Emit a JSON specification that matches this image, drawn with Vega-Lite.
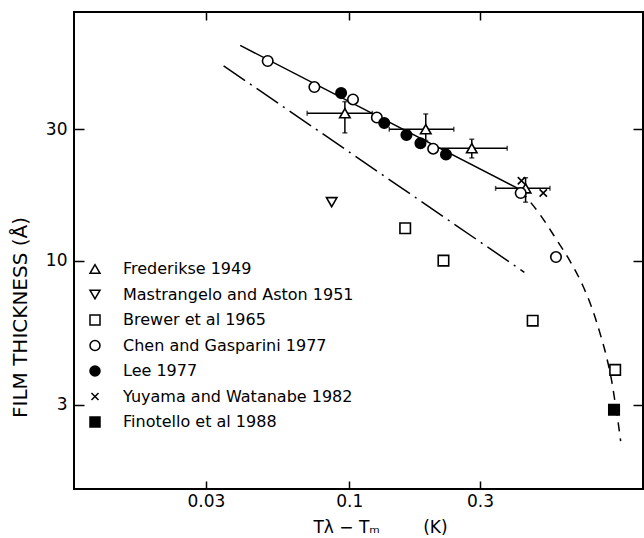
{
  "$schema": "https://vega.github.io/schema/vega-lite/v6.json",
  "width": 569,
  "height": 477,
  "autosize": {"type": "none"},
  "padding": {"left": 74, "top": 12, "right": 1, "bottom": 49},
  "background": "white",
  "config": {
    "view": {"stroke": "black", "strokeWidth": 2},
    "axis": {
      "domain": false, "grid": false, "tickColor": "black", "tickWidth": 1.5,
      "labelColor": "black", "labelFont": "DejaVu Sans", "labelFontSize": 17,
      "titleColor": "black", "titleFont": "DejaVu Sans", "titleFontWeight": "normal", "titleFontSize": 17
    }
  },
  "datasets": {
    "pts": [
      {"series": "Frederikse 1949", "x": 0.0964, "y": 34.3},
      {"series": "Frederikse 1949", "x": 0.1902, "y": 30.0},
      {"series": "Frederikse 1949", "x": 0.280, "y": 25.6},
      {"series": "Frederikse 1949", "x": 0.440, "y": 18.3},
      {"series": "Mastrangelo and Aston 1951", "x": 0.0863, "y": 16.3},
      {"series": "Brewer et al 1965", "x": 0.160, "y": 13.1},
      {"series": "Brewer et al 1965", "x": 0.2207, "y": 10.0},
      {"series": "Brewer et al 1965", "x": 0.467, "y": 6.05},
      {"series": "Brewer et al 1965", "x": 0.934, "y": 4.01},
      {"series": "Chen and Gasparini 1977", "x": 0.0504, "y": 53.1},
      {"series": "Chen and Gasparini 1977", "x": 0.0746, "y": 42.7},
      {"series": "Chen and Gasparini 1977", "x": 0.1032, "y": 38.5},
      {"series": "Chen and Gasparini 1977", "x": 0.1261, "y": 33.1},
      {"series": "Chen and Gasparini 1977", "x": 0.2024, "y": 25.5},
      {"series": "Chen and Gasparini 1977", "x": 0.4223, "y": 17.6},
      {"series": "Chen and Gasparini 1977", "x": 0.568, "y": 10.3},
      {"series": "Lee 1977", "x": 0.0934, "y": 40.6},
      {"series": "Lee 1977", "x": 0.1342, "y": 31.6},
      {"series": "Lee 1977", "x": 0.1617, "y": 28.6},
      {"series": "Lee 1977", "x": 0.1819, "y": 26.7},
      {"series": "Lee 1977", "x": 0.2254, "y": 24.3},
      {"series": "Yuyama and Watanabe 1982", "x": 0.425, "y": 19.5},
      {"series": "Yuyama and Watanabe 1982", "x": 0.5105, "y": 17.6},
      {"series": "Finotello et al 1988", "x": 0.925, "y": 2.87}
    ],
    "ferr": [
      {"x": 0.0964, "xlo": 0.0702, "xhi": 0.1214, "y": 34.3, "ylo": 29.1, "yhi": 37.8},
      {"x": 0.1902, "xlo": 0.140, "xhi": 0.2407, "y": 30.0, "ylo": 27.3, "yhi": 34.1},
      {"x": 0.280, "xlo": 0.2088, "xhi": 0.377, "y": 25.6, "ylo": 23.6, "yhi": 27.6},
      {"x": 0.440, "xlo": 0.342, "xhi": 0.540, "y": 18.3, "ylo": 16.3, "yhi": 20.0}
    ],
    "fit": [
      {"x": 0.040, "y": 60.5},
      {"x": 0.421, "y": 18.1}
    ],
    "dashdot": [
      {"x": 0.0348, "y": 51.0},
      {"x": 0.4355, "y": 9.07}
    ],
    "dashed": [
      {"x": 0.422, "y": 18.0},
      {"x": 0.499, "y": 14.6},
      {"x": 0.571, "y": 11.9},
      {"x": 0.642, "y": 9.88},
      {"x": 0.710, "y": 8.15},
      {"x": 0.773, "y": 6.61},
      {"x": 0.826, "y": 5.36},
      {"x": 0.869, "y": 4.46},
      {"x": 0.906, "y": 3.68},
      {"x": 0.937, "y": 2.98},
      {"x": 0.961, "y": 2.52},
      {"x": 0.978, "y": 2.21}
    ]
  },
  "resolve": {"axis": {"x": "independent", "y": "independent"}},
  "layer": [
    {
      "data": {"name": "fit"},
      "mark": {"type": "line", "color": "black", "strokeWidth": 1.5},
      "encoding": {
        "x": {"field": "x", "type": "quantitative",
          "scale": {"type": "log", "domain": [0.0099, 1.18], "nice": false},
          "axis": {"orient": "bottom", "values": [0.03, 0.1, 0.3], "format": "~g", "tickSize": -8, "labelPadding": 12,
            "title": "Tλ − Tₘ\u00a0\u00a0\u00a0\u00a0\u00a0\u00a0\u00a0\u00a0(K)", "titleX": 306, "titleY": 38, "titleBaseline": "middle"}},
        "y": {"field": "y", "type": "quantitative",
          "scale": {"type": "log", "domain": [1.48, 80], "nice": false},
          "axis": {"orient": "left", "values": [3, 10, 30], "format": "~g", "tickSize": -10, "labelPadding": 17,
            "title": "FILM THICKNESS (Å)", "titleX": -54, "titleY": 305, "titleBaseline": "middle", "titleFontSize": 20}}
      }
    },
    {
      "data": {"name": "dashdot"},
      "mark": {"type": "line", "color": "black", "strokeWidth": 1.5, "strokeDash": [26, 6, 2, 6]},
      "encoding": {
        "x": {"field": "x", "type": "quantitative",
          "scale": {"type": "log", "domain": [0.0099, 1.18], "nice": false},
          "axis": {"orient": "top", "values": [0.03, 0.1, 0.3], "tickSize": -8, "labels": false, "title": null}},
        "y": {"field": "y", "type": "quantitative",
          "scale": {"type": "log", "domain": [1.48, 80], "nice": false},
          "axis": {"orient": "right", "values": [3, 10, 30], "tickSize": -10, "labels": false, "title": null}}
      }
    },
    {
      "data": {"name": "dashed"},
      "mark": {"type": "line", "color": "black", "strokeWidth": 1.5, "strokeDash": [9, 7], "interpolate": "monotone"},
      "encoding": {
        "x": {"field": "x", "type": "quantitative", "scale": {"type": "log", "domain": [0.0099, 1.18], "nice": false}, "axis": null},
        "y": {"field": "y", "type": "quantitative", "scale": {"type": "log", "domain": [1.48, 80], "nice": false}, "axis": null}
      }
    },
    {
      "data": {"name": "ferr"},
      "mark": {"type": "errorbar", "ticks": true, "color": "black", "thickness": 1.5},
      "encoding": {
        "x": {"field": "xlo", "type": "quantitative", "scale": {"type": "log", "domain": [0.0099, 1.18], "nice": false}, "axis": null},
        "x2": {"field": "xhi"},
        "y": {"field": "y", "type": "quantitative", "scale": {"type": "log", "domain": [1.48, 80], "nice": false}, "axis": null}
      }
    },
    {
      "data": {"name": "ferr"},
      "mark": {"type": "errorbar", "ticks": true, "color": "black", "thickness": 1.5},
      "encoding": {
        "y": {"field": "ylo", "type": "quantitative", "scale": {"type": "log", "domain": [1.48, 80], "nice": false}, "axis": null},
        "y2": {"field": "yhi"},
        "x": {"field": "x", "type": "quantitative", "scale": {"type": "log", "domain": [0.0099, 1.18], "nice": false}, "axis": null}
      }
    },
    {
      "data": {"name": "pts"},
      "mark": {"type": "point", "filled": true, "stroke": "black", "strokeWidth": 1.6, "size": 110, "opacity": 1, "fillOpacity": 1, "strokeOpacity": 1},
      "encoding": {
        "x": {"field": "x", "type": "quantitative", "scale": {"type": "log", "domain": [0.0099, 1.18], "nice": false}, "axis": null},
        "y": {"field": "y", "type": "quantitative", "scale": {"type": "log", "domain": [1.48, 80], "nice": false}, "axis": null},
        "shape": {"field": "series", "type": "nominal",
          "scale": {"domain": ["Frederikse 1949", "Mastrangelo and Aston 1951", "Brewer et al 1965", "Chen and Gasparini 1977", "Lee 1977", "Yuyama and Watanabe 1982", "Finotello et al 1988"],
            "range": ["triangle-up", "triangle-down", "square", "circle", "circle", "M-0.7,-0.7L0.7,0.7M-0.7,0.7L0.7,-0.7", "square"]},
          "legend": {"orient": "none", "legendX": 13, "legendY": 249, "title": null, "padding": 0, "labelFont": "DejaVu Sans", "labelFontSize": 16, "labelColor": "black", "labelLimit": 400, "symbolSize": 100, "rowPadding": 9.5, "labelOffset": 20,
            "encode": {"symbols": {"update": {"stroke": {"value": "black"}, "strokeWidth": {"value": 1.6}, "opacity": {"value": 1}}}}}},
        "fill": {"field": "series", "type": "nominal",
          "scale": {"domain": ["Frederikse 1949", "Mastrangelo and Aston 1951", "Brewer et al 1965", "Chen and Gasparini 1977", "Lee 1977", "Yuyama and Watanabe 1982", "Finotello et al 1988"],
            "range": ["white", "white", "white", "white", "black", "black", "black"]},
          "legend": {"orient": "none", "legendX": 13, "legendY": 249, "title": null, "padding": 0, "labelFont": "DejaVu Sans", "labelFontSize": 16, "labelColor": "black", "labelLimit": 400, "symbolSize": 100, "rowPadding": 9.5, "labelOffset": 20,
            "encode": {"symbols": {"update": {"stroke": {"value": "black"}, "strokeWidth": {"value": 1.6}, "opacity": {"value": 1}}}}}}
      }
    }
  ]
}
